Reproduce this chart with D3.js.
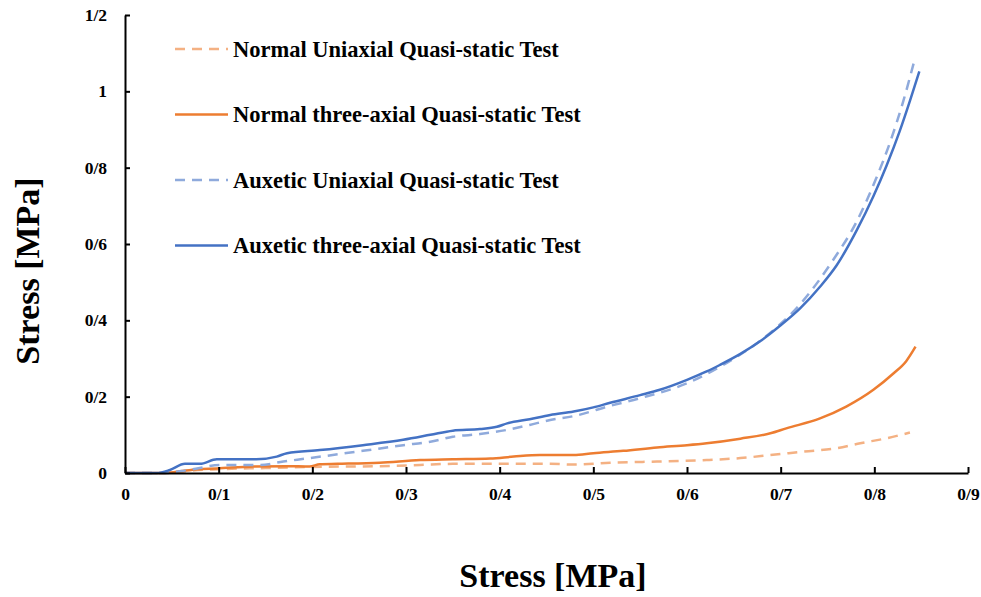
<!DOCTYPE html>
<html>
<head>
<meta charset="utf-8">
<script src="https://cdn.jsdelivr.net/npm/d3@7"></script>
<style>
  body { margin: 0; background: #fff; }
  svg text { font-family: "Liberation Serif", "Times New Roman", serif; font-weight: bold; fill: #000; }
</style>
</head>
<body>
<div id="chart"></div>
<script>
// strain (x) and stress (y)
var normalUniX = [0, 0.05, 0.07, 0.1, 0.15, 0.2, 0.272, 0.315, 0.35, 0.4, 0.454, 0.479, 0.518, 0.568, 0.621, 0.657, 0.689, 0.724, 0.76, 0.785, 0.813, 0.838];
var normalUniY = [0, 0, 0.006, 0.01, 0.013, 0.016, 0.018, 0.021, 0.024, 0.024, 0.024, 0.022, 0.027, 0.03, 0.034, 0.039, 0.047, 0.056, 0.065, 0.078, 0.091, 0.106];

var normalTriX = [0, 0.04, 0.055, 0.077, 0.098, 0.137, 0.173, 0.197, 0.208, 0.227, 0.272, 0.315, 0.35, 0.39, 0.415, 0.443, 0.479, 0.5, 0.532, 0.568, 0.6, 0.621, 0.657, 0.689, 0.706, 0.742, 0.77, 0.799, 0.82, 0.834, 0.844];
var normalTriY = [0, 0, 0.003, 0.01, 0.012, 0.017, 0.018, 0.017, 0.023, 0.024, 0.027, 0.034, 0.036, 0.038, 0.043, 0.047, 0.047, 0.052, 0.058, 0.067, 0.073, 0.078, 0.09, 0.104, 0.117, 0.143, 0.174, 0.218, 0.26, 0.293, 0.331];

var auxUniX = [0, 0.04, 0.06, 0.077, 0.101, 0.144, 0.169, 0.194, 0.227, 0.254, 0.297, 0.326, 0.35, 0.379, 0.408, 0.432, 0.454, 0.479, 0.518, 0.55, 0.6, 0.642, 0.68, 0.72, 0.756, 0.781, 0.802, 0.817, 0.831, 0.843];
var auxUniY = [0, 0, 0.005, 0.012, 0.021, 0.021, 0.03, 0.038, 0.049, 0.058, 0.073, 0.082, 0.095, 0.102, 0.113, 0.126, 0.139, 0.149, 0.176, 0.196, 0.235, 0.288, 0.35, 0.44, 0.558, 0.658, 0.772, 0.868, 0.975, 1.083];

var auxTriX = [0, 0.034, 0.048, 0.064, 0.08, 0.098, 0.14, 0.162, 0.173, 0.208, 0.254, 0.297, 0.326, 0.35, 0.379, 0.397, 0.408, 0.432, 0.454, 0.479, 0.5, 0.518, 0.55, 0.571, 0.6, 0.621, 0.635, 0.657, 0.678, 0.699, 0.721, 0.742, 0.76, 0.781, 0.799, 0.813, 0.827, 0.838, 0.848];
var auxTriY = [0, 0, 0.008, 0.024, 0.024, 0.036, 0.036, 0.043, 0.052, 0.06, 0.073, 0.087, 0.1, 0.111, 0.115, 0.121, 0.13, 0.141, 0.152, 0.161, 0.172, 0.184, 0.204, 0.218, 0.244, 0.266, 0.283, 0.312, 0.345, 0.385, 0.432, 0.488, 0.545, 0.635, 0.725, 0.805, 0.895, 0.975, 1.052];

var seriesNames = ["Normal Uniaxial Quasi-static Test", "Normal three-axial Quasi-static Test", "Auxetic Uniaxial Quasi-static Test", "Auxetic three-axial Quasi-static Test"];

var xTicks = [0, 0.1, 0.2, 0.3, 0.4, 0.5, 0.6, 0.7, 0.8, 0.9];
var xTickLabels = ["0", "0/1", "0/2", "0/3", "0/4", "0/5", "0/6", "0/7", "0/8", "0/9"];
var yTicks = [0, 0.2, 0.4, 0.6, 0.8, 1, 1.2];
var yTickLabels = ["0", "0/2", "0/4", "0/6", "0/8", "1", "1/2"];

var svg = d3.select("#chart").append("svg")
    .attr("width", 981)
    .attr("height", 597);

var x = d3.scaleLinear().domain([0, 0.9]).range([125, 968]);
var y = d3.scaleLinear().domain([0, 1.2]).range([473, 15]);

var series = [
  { name: seriesNames[0], xs: normalUniX, ys: normalUniY, color: "#f4b183", dash: "10,7" },
  { name: seriesNames[1], xs: normalTriX, ys: normalTriY, color: "#ed7d31", dash: null },
  { name: seriesNames[2], xs: auxUniX, ys: auxUniY, color: "#8faadc", dash: "10,7" },
  { name: seriesNames[3], xs: auxTriX, ys: auxTriY, color: "#4472c4", dash: null }
];

var line = d3.line()
    .x(function (d) { return x(d[0]); })
    .y(function (d) { return y(d[1]); })
    .curve(d3.curveMonotoneX);

svg.selectAll(".series")
    .data(series)
    .enter().append("path")
    .attr("class", "series")
    .attr("fill", "none")
    .attr("stroke", function (d) { return d.color; })
    .attr("stroke-width", 2.5)
    .attr("stroke-dasharray", function (d) { return d.dash; })
    .attr("d", function (d) { return line(d3.zip(d.xs, d.ys)); });

// axes
svg.append("g")
    .attr("transform", "translate(0," + y(0) + ")")
    .call(d3.axisBottom(x)
        .tickValues(xTicks)
        .tickFormat(function (d, i) { return xTickLabels[i]; })
        .tickSizeInner(-6)
        .tickSizeOuter(0)
        .tickPadding(15));

svg.append("g")
    .attr("transform", "translate(" + x(0) + ",0)")
    .call(d3.axisLeft(y)
        .tickValues(yTicks)
        .tickFormat(function (d, i) { return yTickLabels[i]; })
        .tickSizeInner(-5)
        .tickSizeOuter(0)
        .tickPadding(18));

svg.selectAll(".domain, .tick line")
    .attr("stroke", "#000")
    .attr("stroke-width", 2);
svg.selectAll(".tick text")
    .attr("font-size", 17.5)
    .style("font-family", "'Liberation Serif', serif")
    .style("font-weight", "bold");

// axis titles
svg.append("text")
    .attr("x", 553)
    .attr("y", 587)
    .attr("text-anchor", "middle")
    .attr("font-size", 34)
    .text("Stress [MPa]");

svg.append("text")
    .attr("transform", "translate(39,271) rotate(-90)")
    .attr("text-anchor", "middle")
    .attr("font-size", 34)
    .text("Stress [MPa]");

// legend
var legend = svg.selectAll(".legend")
    .data(series)
    .enter().append("g")
    .attr("class", "legend")
    .attr("transform", function (d, i) { return "translate(175," + (49 + i * 65.5) + ")"; });

legend.append("line")
    .attr("x1", 0)
    .attr("x2", 53)
    .attr("stroke", function (d) { return d.color; })
    .attr("stroke-width", 2.5)
    .attr("stroke-dasharray", function (d) { return d.dash; });

legend.append("text")
    .attr("x", 58)
    .attr("y", 7.5)
    .attr("font-size", 22.5)
    .text(function (d) { return d.name; });
</script>
</body>
</html>
